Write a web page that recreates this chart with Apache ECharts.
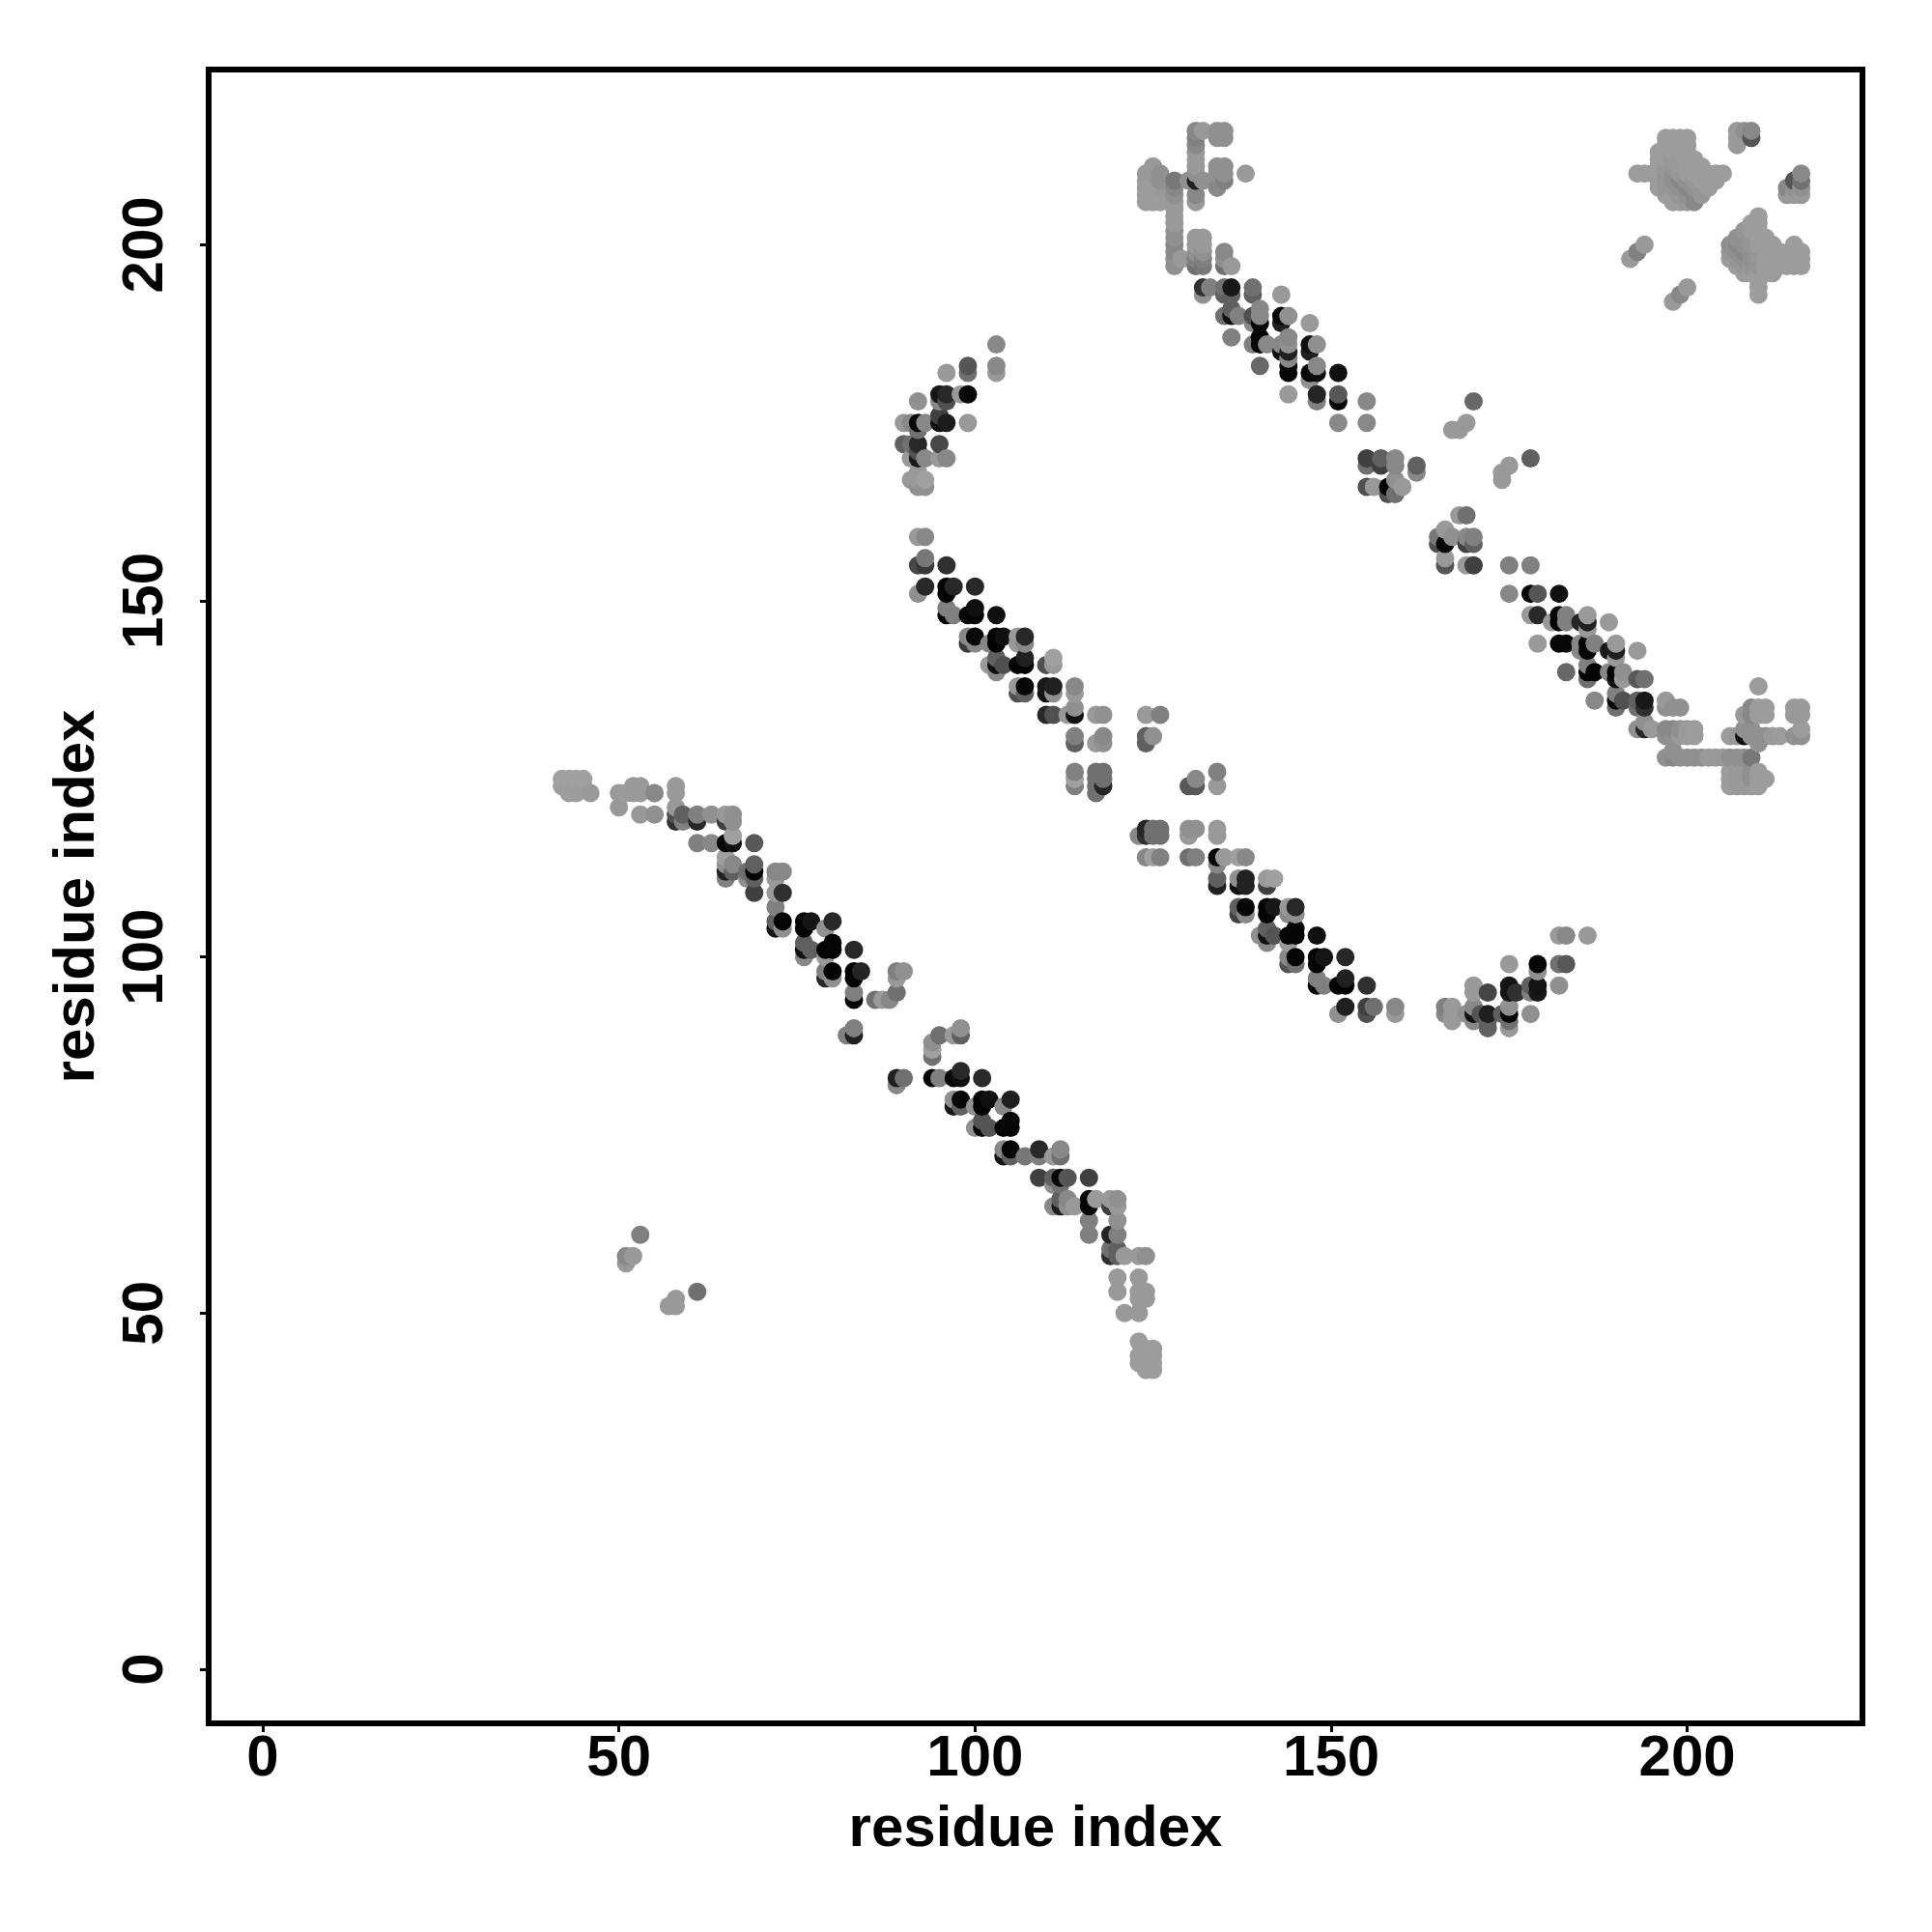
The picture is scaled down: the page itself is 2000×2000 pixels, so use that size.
<!DOCTYPE html>
<html><head><meta charset="utf-8">
<script src="https://cdn.jsdelivr.net/npm/echarts@6/dist/echarts.min.js"></script>
<style>html,body{margin:0;padding:0;background:#fff}#c{width:2000px;height:2000px}</style>
</head><body><div id="c"></div>
<script>
const axisTicks=[0,50,100,150,200];
const axisTitle="residue index";
// each contact: [residue i, residue j, grey shade]
const band1Tail=[[42,125,0xa0],[43,125,0xa0],[44,125,0xa0],[45,125,0xa0],[42,124,0x9c],[43,124,0x9c],[44,124,0x9c],[45,124,0x9c],[43,123,0x9c],[44,123,0x9c],[46,123,0x99],[50,123,0x99],[50,121,0x99],[52,124,0x99],[53,124,0x99],[51,123,0x9c],[52,123,0x99],[53,123,0x99],[55,123,0x88],[53,120,0x99],[55,120,0x90],[58,124,0x99],[58,123,0x99],[58,121,0x99],[58,120,0x50],[58,119,0x30],[59,120,0x60],[59,119,0x80],[61,120,0x80],[61,119,0x28],[63,120,0x90],[65,120,0x99],[66,120,0x90],[65,119,0x40],[66,119,0x90]];
const band1Upper=[[61,116,0x80],[63,116,0x88],[65,116,0x05],[66,116,0x10],[66,117,0xa0],[69,116,0x58],[65,114,0xa0],[66,113,0x88],[65,113,0x90],[65,112,0x20],[65,111,0x80],[66,112,0x60],[68,112,0x70],[69,113,0x60],[69,112,0x05],[68,111,0x90],[69,111,0x60],[69,109,0x40],[72,112,0x88],[73,112,0x88],[72,111,0x99],[72,109,0x99],[73,109,0x30],[72,107,0x80],[72,105,0x60],[73,105,0x05],[72,104,0x15],[73,104,0x90],[76,105,0x05],[77,105,0x15],[76,104,0x05],[80,105,0x28],[79,104,0x90],[76,102,0x60],[77,101,0x60],[76,101,0x10],[76,100,0x88],[80,102,0x05],[80,101,0x05],[79,101,0x05],[79,100,0x99],[83,101,0x28],[80,98,0x05],[79,98,0x80],[79,97,0x28],[80,97,0x90],[83,98,0x05],[84,98,0x25],[83,97,0x05],[83,95,0x80],[83,94,0x05],[86,94,0x70],[87,94,0x99],[88,94,0x88],[89,95,0x70],[89,98,0x80],[90,98,0x90],[89,97,0x99],[83,90,0x80],[83,89,0x20],[82,89,0x80]];
const band1Lower=[[98,90,0x90],[98,89,0x60],[97,89,0x99],[95,89,0x70],[94,88,0x90],[94,87,0xa0],[94,86,0x70],[89,83,0x20],[90,83,0x70],[89,82,0x88],[94,83,0x05],[95,83,0x80],[97,83,0x08],[98,83,0x10],[98,84,0x28],[101,83,0x28],[97,80,0x90],[98,80,0x08],[97,79,0x18],[98,79,0x60],[101,80,0x05],[102,80,0x10],[101,79,0x05],[100,79,0x90],[105,80,0x20],[104,79,0x88],[101,77,0x55],[102,76,0x55],[101,76,0x08],[100,76,0x90],[105,77,0x08],[105,76,0x05],[104,76,0x05],[104,73,0x88],[105,73,0x05],[104,72,0x15],[105,72,0x60],[107,72,0x78],[109,73,0x28],[109,72,0x80],[111,72,0x99],[112,73,0x88],[112,72,0x70],[109,69,0x40],[111,69,0x60],[112,69,0x08],[113,69,0x55],[111,68,0x90],[112,68,0x70],[116,69,0x40],[112,66,0x60],[111,65,0x88],[112,65,0x20],[113,66,0x88],[113,65,0x90],[114,65,0x99],[116,66,0x05],[116,65,0x05],[117,66,0x99],[119,66,0x99],[120,66,0x90],[119,65,0x40],[120,65,0x99],[116,63,0x80],[116,61,0x80],[120,63,0x90],[119,61,0x25],[120,61,0x80],[119,59,0x70],[120,59,0x60],[119,58,0x30],[120,58,0x60],[121,58,0x99],[123,58,0x99],[124,58,0x90],[120,55,0x99],[120,53,0x99],[123,55,0x99],[123,53,0x99],[124,53,0x99],[123,52,0x99],[124,52,0x99],[121,50,0x99],[123,50,0x99],[123,46,0x9c],[125,45,0x9c],[124,45,0x9c],[123,44,0x9c],[124,44,0x9c],[125,44,0x9c],[123,43,0x9c],[124,43,0x9c],[125,43,0x9c],[124,42,0x9c],[125,42,0x9c]];
const isolatedLow=[[53,61,0x80],[52,58,0x99],[51,58,0x88],[51,57,0x99],[61,53,0x70],[58,52,0x99],[57,51,0x99],[58,51,0x99]];
const hairpinTop=[[103,186,0x88],[103,183,0x88],[103,182,0x99],[99,183,0x55],[99,182,0x70],[96,182,0x99],[99,179,0x08],[98,179,0x99],[95,179,0x18],[96,179,0x28],[96,178,0x50],[95,178,0x88],[92,178,0x90],[99,175,0x99],[96,175,0x1c],[95,176,0x40],[95,175,0x10],[93,175,0x88],[92,175,0x05],[91,175,0x88],[90,175,0x99],[92,174,0x70],[95,172,0x48],[92,172,0x28],[90,172,0x60],[91,172,0x70],[96,170,0x88],[95,170,0x99],[93,170,0x88],[92,170,0x18],[91,170,0x99],[92,171,0x50],[93,167,0xa0],[92,167,0x99],[91,167,0x99],[93,166,0x90],[92,166,0x90],[92,168,0x99]];
const band2Upper=[[93,159,0x88],[92,159,0x99],[93,156,0x78],[93,155,0x38],[92,155,0x48],[96,155,0x30],[93,152,0x28],[92,151,0x90],[96,152,0x05],[96,151,0x05],[97,152,0x28],[100,152,0x28],[96,149,0x80],[97,148,0x80],[96,148,0x02],[99,148,0x08],[100,149,0x10],[100,148,0x05],[103,148,0x10],[100,145,0x08],[99,145,0x88],[99,144,0x38],[100,144,0x88],[103,145,0x05],[104,145,0x10],[103,144,0x02],[102,144,0x88],[106,145,0x99],[107,145,0x28],[106,144,0x99],[107,144,0x88],[103,142,0x60],[104,141,0x50],[103,141,0x10],[102,141,0x99],[103,140,0x88],[107,142,0x20],[107,141,0x05],[106,141,0x05],[111,142,0xa0],[111,141,0x99],[110,141,0x50],[107,138,0x08],[106,138,0x99],[106,137,0x50],[107,137,0x60],[110,138,0x18],[111,138,0x20],[110,137,0x10],[111,137,0x90],[114,138,0x88],[114,137,0x99],[114,135,0x90],[114,134,0x10],[113,134,0x99],[110,134,0x28],[111,134,0x50],[117,134,0x99],[118,134,0x90],[124,134,0x99],[126,134,0x80],[114,131,0x80],[114,130,0x60],[118,131,0x88],[117,130,0x99],[118,130,0x90],[124,131,0x60],[124,130,0x60],[125,131,0x90],[114,126,0x80],[114,125,0xa0],[114,124,0x80],[117,126,0x70],[118,126,0x70],[117,125,0x70],[118,125,0x70],[117,124,0x70],[118,124,0x25],[117,123,0x70],[134,126,0x80],[134,124,0x99],[131,125,0x88],[130,124,0x58],[131,124,0x58]];
const band2Lower=[[124,118,0x25],[123,117,0x88],[124,117,0x30],[125,118,0x70],[126,118,0x70],[125,117,0x70],[126,117,0x70],[130,117,0x99],[131,118,0x90],[130,118,0x90],[134,118,0x99],[134,117,0x99],[124,114,0x88],[125,114,0xa0],[126,114,0x80],[130,114,0x70],[131,114,0x80],[134,114,0x05],[135,114,0x99],[134,113,0x88],[137,114,0xa0],[138,114,0x88],[134,111,0x60],[134,110,0x20],[137,111,0x90],[138,111,0x22],[137,110,0x10],[138,110,0x22],[141,111,0x99],[142,111,0xa0],[141,110,0x40],[137,107,0x60],[138,107,0x08],[137,106,0x40],[138,106,0x88],[141,107,0x05],[142,107,0x18],[141,106,0x05],[144,107,0x99],[145,107,0x28],[144,106,0x88],[145,106,0x90],[141,104,0x60],[142,103,0x55],[141,103,0x10],[140,103,0x90],[141,102,0x88],[145,104,0x05],[145,103,0x05],[144,103,0x05],[144,102,0x99],[148,103,0x10],[145,100,0x05],[144,100,0x88],[144,99,0x50],[145,99,0x70],[148,100,0x05],[149,100,0x15],[148,99,0x05],[152,100,0x28],[148,97,0x80],[149,96,0x80],[148,96,0x05],[152,97,0x20],[151,96,0x05],[152,96,0x05],[155,96,0x30],[152,93,0x20],[151,92,0x90],[155,93,0x40],[156,93,0x70],[155,92,0x50],[159,93,0x88],[159,92,0x99]];
const hairpinLow=[[166,93,0x80],[167,93,0x99],[166,92,0x88],[167,92,0x99],[167,91,0x99],[169,92,0x90],[170,93,0x88],[170,92,0x10],[170,91,0x88],[171,92,0x55],[170,96,0x99],[170,95,0x99],[172,95,0x45],[172,92,0x20],[172,90,0x60],[172,91,0x60],[175,96,0x15],[175,95,0x15],[176,95,0x30],[174,92,0x60],[175,93,0x90],[175,92,0x05],[175,91,0x70],[175,90,0x99],[178,92,0x90],[178,96,0x60],[179,96,0x15],[179,95,0x18],[178,95,0x80],[182,96,0x90],[175,99,0x99],[179,99,0x05],[179,98,0x90],[182,99,0x70],[183,99,0x58],[182,103,0x99],[183,103,0x88],[186,103,0x99]];
const band3Top=[[131,216,0x88],[132,216,0x99],[134,216,0x90],[135,216,0x90],[131,215,0x80],[134,215,0x90],[135,215,0x90],[131,214,0x88],[131,213,0x99],[131,212,0x99],[131,211,0x99],[135,211,0x90],[134,211,0x90],[138,210,0x99],[135,210,0x90],[134,210,0x90],[131,210,0x90],[135,209,0x80],[134,208,0x88],[131,209,0x20],[132,209,0x90],[131,207,0x88],[131,206,0x99],[130,209,0x90],[124,210,0x99],[125,211,0x99],[126,210,0x90],[124,209,0x9c],[125,210,0x99],[126,209,0x90],[124,208,0x9c],[125,209,0x9c],[126,208,0x99],[124,207,0x9c],[125,208,0x9c],[126,207,0x9c],[124,206,0x9c],[125,207,0x9c],[126,206,0x9c],[125,206,0x9c],[128,209,0x78],[128,208,0x88],[128,207,0x90],[128,206,0x99],[128,205,0x99],[128,204,0x99],[128,203,0x99],[128,202,0x90],[128,201,0x90],[128,200,0x88],[128,199,0x88],[128,198,0x90],[128,197,0x90],[129,198,0x99],[131,201,0x99],[132,201,0x99],[131,200,0x99],[132,200,0x99],[131,199,0x90],[132,199,0x90],[131,198,0x80],[132,198,0x80],[131,197,0x70],[132,197,0x78],[135,199,0x88],[135,198,0x90],[135,197,0x70],[136,197,0x99]];
const band3Upper=[[132,194,0x30],[132,193,0x90],[133,194,0x80],[135,194,0x70],[136,194,0x18],[135,193,0x60],[136,193,0x60],[139,194,0x70],[139,193,0x60],[143,193,0x99],[140,191,0x88],[136,191,0x60],[135,190,0x70],[136,190,0x10],[137,190,0x80],[139,190,0x50],[140,190,0x88],[140,189,0x08],[139,189,0x88],[143,190,0x05],[144,190,0x90],[143,189,0x20],[147,189,0x99],[136,187,0x80],[140,187,0x05],[140,186,0x05],[139,186,0x80],[141,186,0x88],[144,187,0x88],[143,186,0x88],[144,186,0x90],[144,185,0x20],[143,185,0x10],[144,184,0x88],[147,186,0x10],[148,186,0x90],[147,185,0x20],[140,183,0x68],[144,183,0x08],[144,182,0x08],[147,182,0x08],[148,183,0x88],[148,182,0x0c],[147,181,0x90],[151,182,0x10],[144,179,0x99],[148,179,0x25],[148,178,0x80],[151,179,0x58],[151,178,0x08],[155,178,0x88],[151,175,0x88],[155,175,0x88],[170,178,0x68],[169,175,0x99],[168,174,0x99],[167,174,0x99],[178,170,0x60],[175,169,0x99],[174,168,0x99],[174,167,0x99],[155,170,0x40],[155,169,0x70],[159,170,0x88],[157,170,0x60],[159,169,0x88],[162,169,0x60],[162,168,0x88],[157,169,0x40],[159,167,0x90],[160,166,0x99],[158,166,0x05],[155,166,0x50],[156,166,0x99],[158,165,0x50],[159,165,0x70]];
const band3Lower=[[169,162,0x70],[168,162,0x99],[166,160,0x99],[165,159,0x78],[167,159,0x90],[166,158,0x08],[165,158,0x50],[169,159,0x88],[170,159,0x80],[169,158,0x40],[170,158,0x60],[166,156,0x99],[166,155,0x55],[169,155,0x99],[170,155,0x40],[175,155,0x80],[178,155,0x80],[175,151,0x88],[178,151,0x08],[179,151,0x55],[182,151,0x10],[178,148,0x99],[179,148,0x28],[181,147,0x99],[182,148,0x05],[182,147,0x05],[183,148,0x80],[183,147,0x80],[185,147,0x25],[186,147,0x20],[186,148,0x99],[186,146,0x99],[189,147,0x99],[179,144,0x99],[182,144,0x08],[183,144,0x08],[185,144,0x88],[186,144,0x05],[186,143,0x08],[185,143,0x88],[187,144,0x80],[189,143,0x18],[190,144,0x99],[190,143,0x20],[190,142,0x99],[193,143,0x99],[183,140,0x68],[186,141,0x80],[186,139,0x70],[187,140,0x05],[186,140,0x05],[189,140,0x88],[190,140,0x05],[190,139,0x10],[191,140,0x90],[191,139,0x99],[193,139,0x58],[194,139,0x70],[187,136,0x88],[190,137,0x80],[190,136,0x08],[191,136,0x50],[190,135,0x70],[193,136,0x60],[194,136,0x18],[194,135,0x30],[193,135,0x70],[197,136,0x99],[197,135,0x90],[198,135,0x90],[199,135,0x90],[194,133,0x90],[193,132,0x90],[194,132,0x28],[195,132,0x99]];
const band3Foot=[[197,132,0x88],[198,132,0x88],[199,132,0x90],[200,132,0x99],[201,132,0x9c],[197,131,0x90],[198,131,0x90],[199,131,0x99],[200,131,0x9c],[201,131,0x9c],[197,128,0x90],[198,129,0x90],[198,128,0x88],[199,128,0x90],[200,128,0x90],[201,128,0x90],[202,128,0x90],[203,128,0x99],[204,128,0x99],[205,128,0x99],[206,128,0x90],[207,128,0x90],[208,128,0x90],[209,128,0x78],[206,126,0x9c],[207,126,0x99],[208,126,0x99],[209,126,0x90],[210,126,0x9c],[206,125,0x9c],[207,125,0x99],[208,125,0x99],[209,125,0x90],[210,125,0x9c],[211,125,0x9c],[206,124,0x9c],[207,124,0x99],[208,124,0x99],[209,124,0x99],[210,124,0x9c],[206,131,0x9c],[207,131,0x99],[208,131,0x10],[208,132,0x90],[209,131,0x90],[209,132,0x90],[209,135,0x88],[210,135,0x9c],[211,135,0x9c],[209,134,0x88],[208,134,0x99],[210,134,0x9c],[211,134,0x9c],[210,138,0x9c],[210,131,0x90],[211,131,0x90],[212,131,0x99],[213,131,0x9c],[210,130,0x90],[215,135,0x99],[216,135,0x99],[215,134,0x99],[216,134,0x99],[216,132,0x9c],[215,131,0x90],[216,131,0x90]];
const clusterA=[[197,215,0x9c],[198,215,0x9c],[199,215,0x9c],[200,215,0x9c],[197,214,0x9c],[198,214,0x9c],[199,214,0x9c],[200,214,0x9c],[196,213,0x9c],[197,213,0x9c],[198,213,0x9c],[199,213,0x9c],[200,213,0x9c],[196,212,0x9c],[197,212,0x9c],[198,212,0x99],[199,212,0x99],[200,212,0x9c],[201,212,0x9c],[196,211,0x9c],[197,211,0x99],[198,211,0x96],[199,211,0x99],[200,211,0x9c],[201,211,0x9c],[202,211,0x9c],[193,210,0x9c],[194,210,0x9c],[195,210,0x9c],[196,210,0x9c],[197,210,0x96],[198,210,0x90],[199,210,0x96],[200,210,0x9c],[201,210,0x9c],[202,210,0x9c],[203,210,0x9c],[204,210,0x9c],[205,210,0x9c],[196,209,0x9c],[197,209,0x96],[198,209,0x90],[199,209,0x88],[200,209,0x90],[201,209,0x96],[202,209,0x9c],[203,209,0x9c],[204,209,0x9c],[196,208,0x9c],[197,208,0x96],[198,208,0x96],[199,208,0x90],[200,208,0x88],[201,208,0x90],[202,208,0x96],[203,208,0x9c],[197,207,0x9c],[198,207,0x9c],[199,207,0x96],[200,207,0x90],[201,207,0x88],[202,207,0x96],[198,206,0x9c],[199,206,0x9c],[200,206,0x96],[201,206,0x88]];
const clusterB=[[210,204,0x9c],[209,203,0x9c],[210,203,0x9c],[208,202,0x96],[209,202,0x9c],[210,202,0x9c],[207,201,0x90],[208,201,0x90],[209,201,0x96],[210,201,0x9c],[211,201,0x9c],[206,200,0x90],[207,200,0x88],[208,200,0x90],[209,200,0x96],[210,200,0x9c],[211,200,0x9c],[212,200,0x9c],[215,200,0x9c],[206,199,0x96],[207,199,0x90],[208,199,0x88],[209,199,0x90],[210,199,0x96],[211,199,0x9c],[212,199,0x9c],[213,199,0x9c],[215,199,0x9c],[216,199,0x9c],[206,198,0x9c],[207,198,0x96],[208,198,0x90],[209,198,0x90],[210,198,0x96],[211,198,0x9c],[212,198,0x9c],[213,198,0x9c],[214,198,0x9c],[215,198,0x9c],[216,198,0x9c],[207,197,0x9c],[208,197,0x96],[209,197,0x96],[210,197,0x96],[211,197,0x9c],[212,197,0x9c],[213,197,0x9c],[214,197,0x9c],[215,197,0x9c],[216,197,0x9c],[208,196,0x9c],[209,196,0x9c],[210,196,0x9c],[211,196,0x9c],[212,196,0x9c],[210,195,0x9c],[210,194,0x9c],[210,193,0x9c]];
const cornerDots=[[207,216,0x99],[208,216,0x90],[209,216,0x88],[207,215,0x99],[209,215,0x55],[207,214,0x99],[216,210,0x88],[215,209,0x55],[216,209,0x70],[214,208,0x88],[215,208,0x90],[216,208,0x90],[214,207,0x99],[215,207,0x99],[216,207,0x99],[194,200,0x99],[193,199,0x80],[192,198,0x99],[200,194,0x99],[199,193,0x88],[198,192,0x99]];

const contacts=[band1Tail,band1Upper,band1Lower,isolatedLow,hairpinTop,band2Upper,band2Lower,hairpinLow,band3Top,band3Upper,band3Lower,band3Foot,clusterA,clusterB,cornerDots].flat();
contacts.sort((a,b)=>a[0]-b[0]||a[1]-b[1]);

const font="'Liberation Sans'";
const chart=echarts.init(document.getElementById('c'),null,{renderer:'canvas'});
const axis=(extra)=>Object.assign({
  type:'value',min:-7.6,max:224.6,splitLine:{show:false},
  axisLine:{show:false,onZero:false},
  axisTick:{show:true,length:9,lineStyle:{color:'#000',width:3},customValues:axisTicks},
  name:axisTitle,nameLocation:'middle',
  nameTextStyle:{fontFamily:font,fontWeight:'bold',fontSize:60,color:'#000'}
},extra);
chart.setOption({
  animation:false,backgroundColor:'#fff',
  grid:{left:216,right:72,top:72,bottom:216,show:true,borderColor:'#000',borderWidth:6,backgroundColor:'transparent',containLabel:false},
  xAxis:axis({nameGap:80,axisLabel:{customValues:axisTicks,fontFamily:font,fontWeight:'bold',fontSize:60,color:'#000',margin:7}}),
  yAxis:axis({nameGap:106,axisLabel:{customValues:axisTicks,rotate:90,align:'center',verticalAlign:'middle',fontFamily:font,fontWeight:'bold',fontSize:60,color:'#000',margin:65}}),
  series:[{type:'scatter',symbol:'circle',symbolSize:19,data:contacts,
    encode:{x:0,y:1},
    itemStyle:{opacity:1,color:p=>{const g=p.value[2];return `rgb(${g},${g},${g})`;}}}]
});
</script></body></html>
